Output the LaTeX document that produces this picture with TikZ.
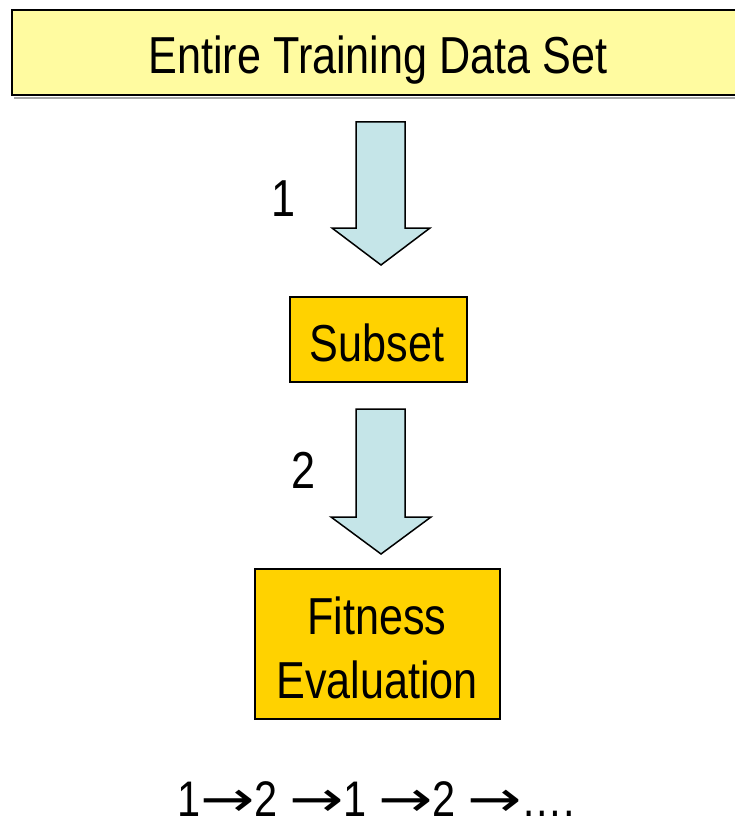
\documentclass[tikz,border=0pt]{standalone}
\usepackage{fontspec}
\setmainfont{Liberation Sans}[FakeStretch=0.83]
\newfontfamily\arrowfont{DejaVu Sans}
\newcommand{\seqarrow}{{\arrowfont\scalebox{1.3}[1]{→}}}
\definecolor{paleyellow}{HTML}{FFFBA0}
\definecolor{gold}{HTML}{FFD200}
\definecolor{paleblue}{HTML}{C5E5E8}
\begin{document}
\begin{tikzpicture}[x=1pt,y=-1pt,
  label text/.style={font=\fontsize{52}{60}\selectfont, inner sep=0pt, anchor=base},
  stage box/.style={draw=black, line width=1.8pt, fill=gold},
  flow arrow/.style={draw=black, line width=1.5pt, fill=paleblue, line join=miter}]
\useasboundingbox (0,0) rectangle (734,826);

% top banner
\fill[gray!70] (14,97) rectangle (740,99);
\draw[draw=black, line width=1.8pt, fill=paleyellow] (12,10) rectangle (740,95);
\node[label text] (data) at (378,74) {Entire Training Data Set};

% subset box
\draw[stage box] (290,297) rectangle (467,382);
\node[label text] (subset) at (377,361) {Subset};

% fitness box
\draw[stage box] (255,569) rectangle (500,719);
\node[label text] (fit1) at (377,634) {Fitness};
\node[label text] (fit2) at (377,698) {Evaluation};

% block arrow 1
\draw[flow arrow] (356,122) -- (405,122) -- (405,228) -- (430,228) -- (381,265)
  -- (332,228) -- (356,228) -- cycle;
\node[label text] (step1) at (283,217) {1};

% block arrow 2
\draw[flow arrow] (356,409) -- (405,409) -- (405,517) -- (431,517) -- (381,554)
  -- (331,517) -- (356,517) -- cycle;
\node[label text] (step2) at (303,488) {2};

% cycle sequence
\node[font=\fontsize{50}{60}\selectfont, inner sep=0pt, anchor=base, text depth=0pt] (seq) at (376,816)
  {1\seqarrow2 \seqarrow1 \seqarrow2 \seqarrow….};
\end{tikzpicture}
\end{document}
